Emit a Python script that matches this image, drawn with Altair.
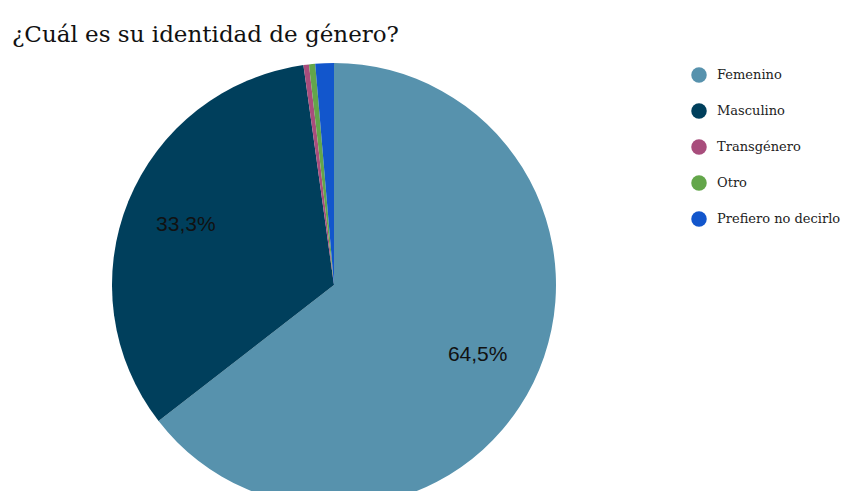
import altair as alt
import pandas as pd

categories = ["Femenino", "Masculino", "Transgénero", "Otro", "Prefiero no decirlo"]
values = [64.5, 33.3, 0.4, 0.45, 1.35]
labels = ["64,5%", "33,3%", "", "", ""]
colors = ["#5792ad", "#003f5c", "#a84d7c", "#63a64a", "#1256cc"]

df = pd.DataFrame({
    "cat": categories,
    "value": values,
    "label": labels,
    "idx": list(range(len(categories))),
})

SERIF = "DejaVu Serif"

color = alt.Color(
    "cat:N",
    scale=alt.Scale(domain=categories, range=colors),
    sort=categories,
    legend=alt.Legend(
        title=None,
        orient="none",
        legendX=683,
        legendY=14,
        symbolType="circle",
        symbolSize=240,
        symbolStrokeWidth=0,
        symbolOpacity=1,
        labelFont=SERIF,
        labelFontSize=13,
        labelColor="#222222",
        labelOffset=10,
        rowPadding=20,
        labelLimit=300,
    ),
)

base = alt.Chart(df).encode(
    theta=alt.Theta("value:Q", stack=True),
    order=alt.Order("idx:Q"),
)

pie = base.mark_arc(outerRadius=222, stroke=None).encode(
    color=color, x=alt.value(326), y=alt.value(232)
)
text = base.mark_text(
    radius=160, font="Liberation Sans", fontSize=21
).encode(
    text="label:N",
    color=alt.value("#111111"),
    x=alt.value(326),
    y=alt.value(232),
)

chart = (
    alt.layer(pie, text)
    .properties(
        width=837,
        height=438,
        padding={"left": 0, "top": 45, "right": 0, "bottom": 0},
        autosize=alt.AutoSizeParams(type="none"),
        title=alt.TitleParams(
            "¿Cuál es su identidad de género?",
            anchor="start",
            font=SERIF,
            fontSize=23,
            fontWeight="normal",
            color="#111111",
            dx=4,
            offset=6,
        ),
    )
    .configure_view(stroke=None)
)

chart.save("out.html", embed_options={"renderer": "svg", "actions": False})
